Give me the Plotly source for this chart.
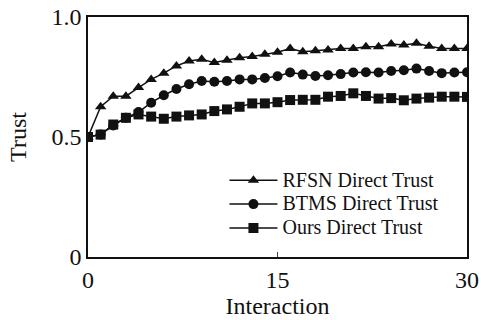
import plotly.graph_objects as go

interaction = list(range(31))
rfsn = [0.50, 0.626, 0.67, 0.67, 0.706, 0.74, 0.766, 0.796, 0.817, 0.824,
        0.81, 0.82, 0.83, 0.835, 0.845, 0.853, 0.869, 0.855, 0.859, 0.863,
        0.869, 0.869, 0.876, 0.876, 0.887, 0.883, 0.891, 0.878, 0.869, 0.869, 0.869]
btms = [0.50, 0.51, 0.548, 0.58, 0.604, 0.643, 0.674, 0.70, 0.72, 0.733,
        0.73, 0.733, 0.74, 0.74, 0.746, 0.753, 0.769, 0.76, 0.754, 0.757,
        0.762, 0.769, 0.77, 0.769, 0.775, 0.778, 0.785, 0.775, 0.766, 0.769, 0.77]
ours = [0.50, 0.51, 0.552, 0.58, 0.594, 0.585, 0.576, 0.585, 0.59, 0.594,
        0.608, 0.615, 0.626, 0.64, 0.64, 0.645, 0.654, 0.655, 0.655, 0.668,
        0.671, 0.682, 0.671, 0.66, 0.662, 0.653, 0.66, 0.664, 0.668, 0.668, 0.667]

series = [("RFSN Direct Trust", rfsn, "triangle-up"),
          ("BTMS Direct Trust", btms, "circle"),
          ("Ours Direct Trust", ours, "square")]

x_ticks = [0, 15, 30]
y_ticks = [0, 0.5, 1.0]
y_ticktext = ["0", "0.5", "1.0"]

fig = go.Figure()
for name, vals, sym in series:
    fig.add_trace(go.Scatter(
        x=interaction, y=vals,
        name='<span style="font-size:20px">' + name + '</span>',
        mode="lines+markers",
        line=dict(color="#111111", width=1.5),
        marker=dict(symbol=sym, size=10, color="#111111"),
    ))

font = "Liberation Serif, Times New Roman, serif"
fig.update_layout(
    width=481, height=320,
    margin=dict(l=88, r=14, t=17, b=63),
    paper_bgcolor="white", plot_bgcolor="white",
    font=dict(family=font, size=24, color="#111111"),
    showlegend=True,
    legend=dict(x=0.36, y=0.39, xanchor="left", yanchor="top",
                bgcolor="rgba(0,0,0,0)", font=dict(size=16, family=font),
                tracegroupgap=0, itemwidth=48),
    xaxis=dict(range=[0, 30], tickvals=x_ticks, ticks="inside", ticklen=5,
               showline=True, linecolor="#111111", linewidth=1.5, mirror=True,
               showgrid=False, zeroline=False, automargin=False,
               title=dict(text="Interaction", standoff=6, font=dict(size=24)),
               tickfont=dict(size=24)),
    yaxis=dict(range=[0, 1.0], tickvals=y_ticks, ticktext=y_ticktext, ticks="",
               showline=True, linecolor="#111111", linewidth=1.5, mirror=True,
               showgrid=False, zeroline=False, automargin=False,
               title=dict(text="Trust", standoff=18, font=dict(size=24)),
               tickfont=dict(size=24)),
)

fig.write_html("out.html")
